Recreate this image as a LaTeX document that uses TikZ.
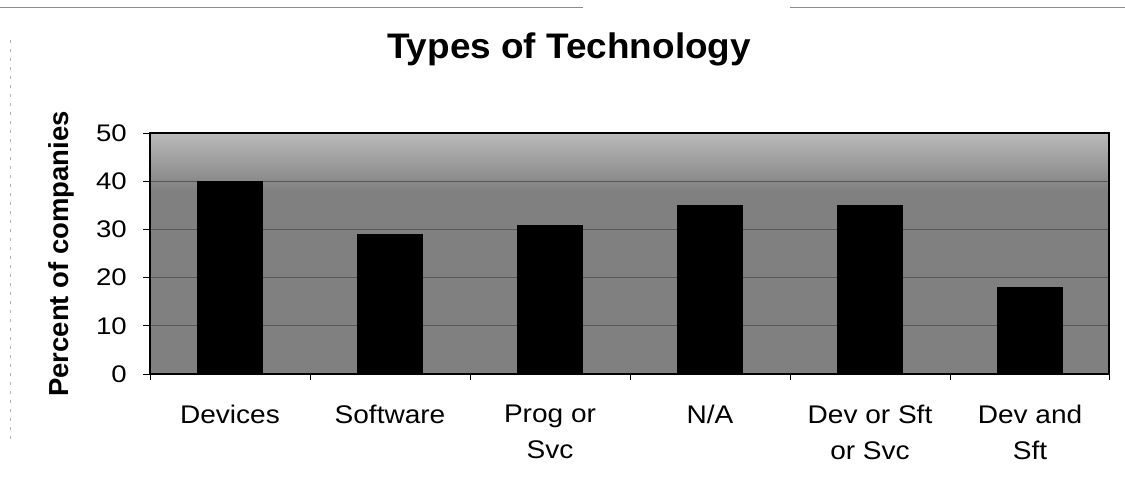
\documentclass[tikz,border=0pt]{standalone}
\usepackage{fontspec}
\setmainfont{Liberation Sans}
\newfontfamily\ticksf{Liberation Sans}[FakeStretch=1.15]
\newfontfamily\catsf{Liberation Sans}[FakeStretch=1.1]
\newfontfamily\titlesf{Liberation Sans}[FakeStretch=1.04]
\begin{document}
\begin{tikzpicture}[x=1pt,y=-1pt,
  bar/.style={fill=black, draw=none, minimum width=66pt, inner sep=0pt, outer sep=0pt, anchor=south},
  ticklab/.style={anchor=east, inner sep=0pt, font=\ticksf\fontsize{24}{28}\selectfont},
  catlab/.style={anchor=north, inner sep=0pt, align=center, font=\catsf\fontsize{25.5}{36}\selectfont},
  gridln/.style={black!66, line width=1pt},
  tickln/.style={black, line width=1pt},
  scanln/.style={black!45, line width=0.8pt}]
\useasboundingbox (0,0) rectangle (1125,496);
% scan artefacts
\draw[scanln] (0,7) -- (583,7);
\draw[scanln] (790,7) -- (1125,7);
\draw[scanln, dash pattern=on 3pt off 6pt, black!30] (10,40) -- (10,445);
% plot background
\fill[black!50] (150,133) rectangle (1109,374);
\fill[top color=black!27, bottom color=black!50] (150,133) rectangle (1109,192);
% grid lines
\foreach \yy in {325.8,277.6,229.4,181.2} \draw[gridln] (150,\yy) -- (1109,\yy);
% bars
\node[bar, minimum height=192.8pt] (b1) at (230,374) {};
\node[bar, minimum height=139.8pt] (b2) at (390,374) {};
\node[bar, minimum height=149.4pt] (b3) at (550,374) {};
\node[bar, minimum height=168.7pt] (b4) at (710,374) {};
\node[bar, minimum height=168.7pt] (b5) at (870,374) {};
\node[bar, minimum height=86.8pt] (b6) at (1030,374) {};
% frame
\node[draw=black, line width=1.5pt, minimum width=959pt, minimum height=241pt, inner sep=0pt, outer sep=0pt] (plot) at (629.5,253.5) {};
% y ticks
\foreach \yy in {133,181.2,229.4,277.6,325.8,374} \draw[tickln] (143,\yy) -- (150,\yy);
% x ticks
\foreach \xx in {150,310,470,630,790,950,1109} \draw[tickln] (\xx,374) -- (\xx,380);
% tick labels
\node[ticklab] (t50) at (127,133) {50};
\node[ticklab] (t40) at (127,181.2) {40};
\node[ticklab] (t30) at (127,229.4) {30};
\node[ticklab] (t20) at (127,277.6) {20};
\node[ticklab] (t10) at (127,325.8) {10};
\node[ticklab] (t0) at (127,374) {0};
% category labels
\node[catlab] (c1) at (230,404.5) {Devices};
\node[catlab] (c2) at (390,404.5) {Software};
\node[catlab] (c3) at (550,404.5) {Prog or\\Svc};
\node[catlab] (c4) at (710,404.5) {N/A};
\node[catlab] (c5) at (870,404.5) {Dev or Sft\\or Svc};
\node[catlab] (c6) at (1030,404.5) {Dev and\\Sft};
% titles
\node[anchor=base, inner sep=0pt, font=\titlesf\bfseries\fontsize{35.5}{40}\selectfont] (title) at (569,58) {Types of Technology};
\node[anchor=base, rotate=90, inner sep=0pt, font=\bfseries\fontsize{27.5}{30}\selectfont] (ytitle) at (68,254) {Percent of companies};
\end{tikzpicture}
\end{document}
